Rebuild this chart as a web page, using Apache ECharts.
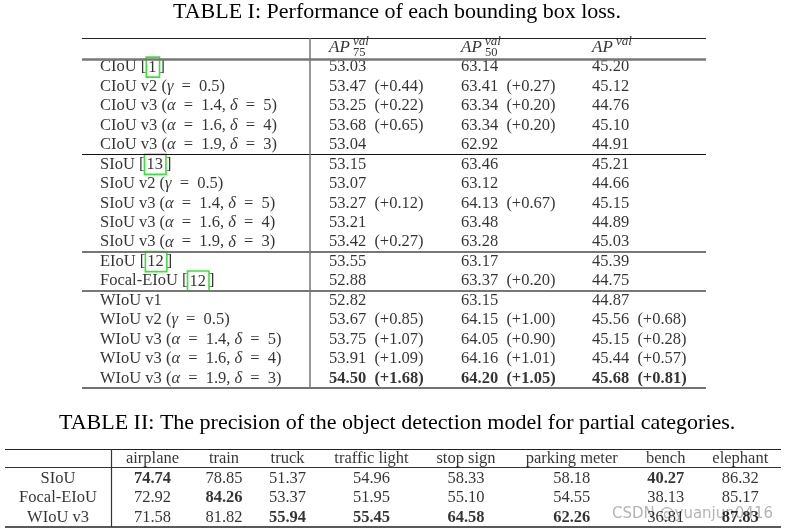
<!DOCTYPE html>
<html>
<head>
<meta charset="utf-8">
<script src="https://cdn.jsdelivr.net/npm/echarts@6/dist/echarts.min.js"></script>
<style>
  html, body { margin: 0; padding: 0; background: #fff; }
  #chart { width: 785px; height: 532px; }
</style>
</head>
<body>
<div id="chart"></div>
<script>
// ---- Table I: performance of each bounding box loss ----
const lossNames = [
  'CIoU [1]', 'CIoU v2 (γ = 0.5)', 'CIoU v3 (α = 1.4, δ = 5)', 'CIoU v3 (α = 1.6, δ = 4)', 'CIoU v3 (α = 1.9, δ = 3)',
  'SIoU [13]', 'SIoU v2 (γ = 0.5)', 'SIoU v3 (α = 1.4, δ = 5)', 'SIoU v3 (α = 1.6, δ = 4)', 'SIoU v3 (α = 1.9, δ = 3)',
  'EIoU [12]', 'Focal-EIoU [12]',
  'WIoU v1', 'WIoU v2 (γ = 0.5)', 'WIoU v3 (α = 1.4, δ = 5)', 'WIoU v3 (α = 1.6, δ = 4)', 'WIoU v3 (α = 1.9, δ = 3)'
];
const ap75 = [53.03, 53.47, 53.25, 53.68, 53.04, 53.15, 53.07, 53.27, 53.21, 53.42, 53.55, 52.88, 52.82, 53.67, 53.75, 53.91, 54.50];
const ap75Gain = [null, 0.44, 0.22, 0.65, null, null, null, 0.12, null, 0.27, null, null, null, 0.85, 1.07, 1.09, 1.68];
const ap50 = [63.14, 63.41, 63.34, 63.34, 62.92, 63.46, 63.12, 64.13, 63.48, 63.28, 63.17, 63.37, 63.15, 64.15, 64.05, 64.16, 64.20];
const ap50Gain = [null, 0.27, 0.20, 0.20, null, null, null, 0.67, null, null, null, 0.20, null, 1.00, 0.90, 1.01, 1.05];
const apAll = [45.20, 45.12, 44.76, 45.10, 44.91, 45.21, 44.66, 45.15, 44.89, 45.03, 45.39, 44.75, 44.87, 45.56, 45.15, 45.44, 45.68];
const apAllGain = [null, null, null, null, null, null, null, null, null, null, null, null, null, 0.68, 0.28, 0.57, 0.81];
const boldRows1 = [16];
const groupBreaks = [4.5, 9.5, 11.5];   // rules between loss families

// ---- Table II: precision for partial categories ----
const categories = ['airplane', 'train', 'truck', 'traffic light', 'stop sign', 'parking meter', 'bench', 'elephant'];
const models = ['SIoU', 'Focal-EIoU', 'WIoU v3'];
const siou = [74.74, 78.85, 51.37, 54.96, 58.33, 58.18, 40.27, 86.32];
const focalEiou = [72.92, 84.26, 53.37, 51.95, 55.10, 54.55, 38.13, 85.17];
const wiouV3 = [71.58, 81.82, 55.94, 55.45, 64.58, 62.26, 36.81, 87.83];

// ---- layout ----
const FONT = 'Liberation Serif';
const FS = 16.5;
const col1X = [18, 247, 379, 510];                 // left edges, from table I left
const col2X = [53, 147.5, 219, 282.5, 366.5, 461, 566.7, 660.7, 735.3]; // centres, from table II left

function mathText(s) {
  return s.replace(/\[(\d+)\]/g, '[{ref|$1}]')
          .replace(/([αγδ])/g, '{i|$1}')
          .replace(/ = /g, ' {eq|=} ');
}
function cell(v, g) {
  return v.toFixed(2) + (g == null ? '' : '  (+' + g.toFixed(2) + ')');
}
const richStyles = {
  i: { fontFamily: FONT, fontSize: FS, fontStyle: 'italic' },
  eq: { fontFamily: FONT, fontSize: FS, padding: [0, 4] },
  ref: { fontFamily: FONT, fontSize: FS, borderColor: '#00e000', borderWidth: 1.6, padding: [2, 3, 1, 2] }
};

// table I body cells
const t1Cells = [];
lossNames.forEach(function (name, i) {
  const bold = boldRows1.indexOf(i) >= 0;
  const w = bold ? 'bold' : 'normal';
  t1Cells.push({ value: [col1X[0], i], t: mathText(name) });
  t1Cells.push({ value: [col1X[1], i], t: cell(ap75[i], ap75Gain[i]), label: { fontWeight: w } });
  t1Cells.push({ value: [col1X[2], i], t: cell(ap50[i], ap50Gain[i]), label: { fontWeight: w } });
  t1Cells.push({ value: [col1X[3], i], t: cell(apAll[i], apAllGain[i]), label: { fontWeight: w } });
});
// table I header: AP with super/subscripts
const t1Head = [];
[['75'], ['50'], [null]].forEach(function (sub, k) {
  const x = col1X[k + 1];
  t1Head.push({ value: [x, -1], t: 'AP', label: { fontStyle: 'italic', fontSize: 17 } });
  t1Head.push({ value: [x + 24, -1], t: 'val', label: { fontStyle: 'italic', fontSize: 13, offset: [0, -6] } });
  if (sub[0]) t1Head.push({ value: [x + 24, -1], t: sub[0], label: { fontSize: 12.5, offset: [0, 5] } });
});

// table II cells
const rows2 = [siou, focalEiou, wiouV3];
const t2Cells = [];
categories.forEach(function (c, j) {
  t2Cells.push({ value: [col2X[j + 1], -1], t: c });
  const best = Math.max.apply(null, rows2.map(function (r) { return r[j]; }));
  rows2.forEach(function (r, i) {
    t2Cells.push({ value: [col2X[j + 1], i], t: r[j].toFixed(2), label: { fontWeight: r[j] === best ? 'bold' : 'normal' } });
  });
});
models.forEach(function (m, i) {
  t2Cells.push({ value: [col2X[0], i], t: m });
});

const baseLabel = {
  show: true, position: 'inside', color: '#000',
  fontFamily: FONT, fontSize: FS, verticalAlign: 'middle',
  formatter: function (p) { return p.data.t; }, rich: richStyles
};
function textSeries(idx, data, align) {
  return {
    type: 'scatter', xAxisIndex: idx, yAxisIndex: idx, symbolSize: 0, silent: true,
    data: data, label: Object.assign({}, baseLabel, { align: align })
  };
}
function rule(y, color, width) {
  return { yAxis: y, lineStyle: { color: color, width: width, type: 'solid' } };
}

const chart = echarts.init(document.getElementById('chart'), null, { renderer: 'canvas' });
chart.setOption({
  animation: false,
  backgroundColor: '#fff',
  title: [
    { text: 'TABLE I: Performance of each bounding box loss.', left: 173, top: 1, padding: 0,
      textStyle: { fontFamily: FONT, fontSize: 22, fontWeight: 'normal', color: '#000' } },
    { text: 'TABLE II: The precision of the object detection model for partial categories.', left: 59, top: 412, padding: 0,
      textStyle: { fontFamily: FONT, fontSize: 22, fontWeight: 'normal', color: '#000' } }
  ],
  grid: [
    { left: 82, right: 79, top: 38, bottom: 144 },
    { left: 5, right: 4, top: 449, bottom: 5 }
  ],
  xAxis: [
    { type: 'value', gridIndex: 0, min: 0, max: 624, show: false },
    { type: 'value', gridIndex: 1, min: 0, max: 776, show: false }
  ],
  yAxis: [
    { type: 'value', gridIndex: 0, min: -1.5, max: 16.5, inverse: true, show: false },
    { type: 'value', gridIndex: 1, min: -1.5, max: 2.5, inverse: true, show: false }
  ],
  series: [
    textSeries(0, t1Cells, 'left'),
    textSeries(0, t1Head, 'left'),
    textSeries(1, t2Cells, 'center'),
    {
      type: 'scatter', xAxisIndex: 0, yAxisIndex: 0, data: [], silent: true,
      markLine: {
        symbol: 'none', silent: true, label: { show: false },
        data: [
          rule(-1.5, '#222', 1.2),
          rule(-0.4, '#777', 2.5),
          rule(groupBreaks[0], '#111', 1.2),
          rule(groupBreaks[1], '#777', 2.2),
          rule(groupBreaks[2], '#777', 2.2),
          rule(16.5, '#444', 1.5),
          { xAxis: 228, lineStyle: { color: '#777', width: 1.5, type: 'solid' } }
        ]
      }
    },
    {
      type: 'scatter', xAxisIndex: 1, yAxisIndex: 1, data: [], silent: true,
      markLine: {
        symbol: 'none', silent: true, label: { show: false },
        data: [
          rule(-1.5, '#222', 1.2),
          rule(-0.55, '#333', 1.2),
          rule(2.5, '#222', 1.5),
          { xAxis: 106, lineStyle: { color: '#333', width: 1.2, type: 'solid' } }
        ]
      }
    }
  ],
  graphic: [
    { type: 'text', left: 612, top: 507, silent: true,
      style: { text: 'CSDN @yuanjun0416', fill: 'rgba(130,130,130,0.6)', font: '15px "DejaVu Sans"' } }
  ]
});
</script>
</body>
</html>
